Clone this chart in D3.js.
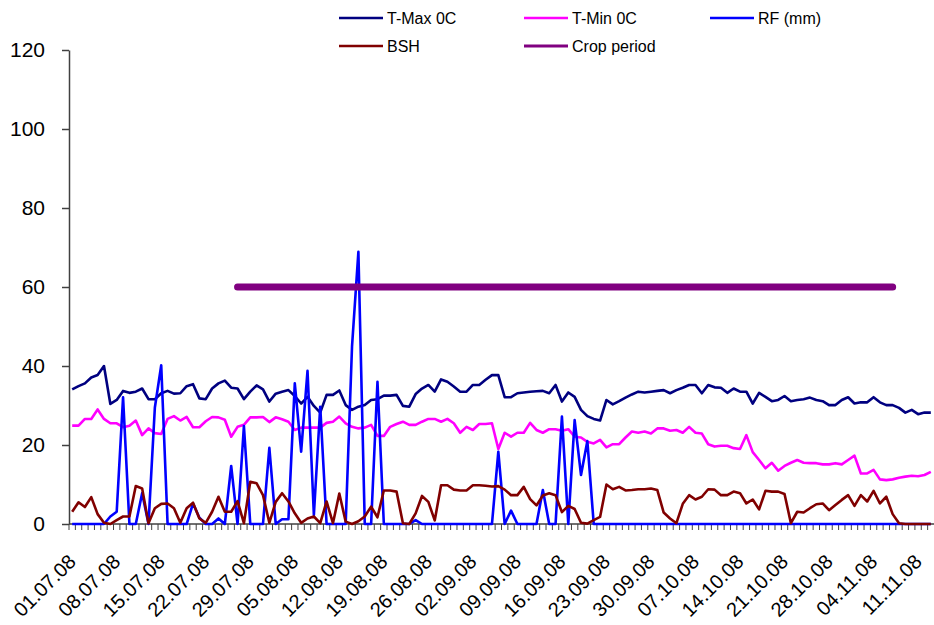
<!DOCTYPE html>
<html>
<head>
<meta charset="utf-8">
<script src="https://cdn.jsdelivr.net/npm/d3@7"></script>
<style>
  body { margin: 0; background: #fff; }
  svg { display: block; font-family: Arial, "Liberation Sans", sans-serif; }
</style>
</head>
<body>
<svg id="chart" width="934" height="625"></svg>
<script>
// daily readings 01.07.08 - 13.11.08
var tmax = [
    34.1, 34.9, 35.6, 37.1, 37.7, 40.0, 30.4, 31.4, 33.7, 33.2,
    33.5, 34.3, 31.6, 31.6, 33.1, 33.7, 33.0, 33.1, 34.9, 35.4,
    31.8, 31.6, 34.3, 35.6, 36.3, 34.5, 34.3, 31.6, 33.5, 35.1,
    34.1, 31.0, 33.0, 33.5, 33.9, 32.4, 30.5, 32.2, 29.9, 28.2,
    32.7, 32.7, 33.8, 30.1, 28.9, 29.7, 30.1, 31.4, 31.6, 32.5,
    32.5, 32.7, 29.9, 29.7, 32.9, 34.3, 35.2, 33.5, 36.6, 36.0,
    34.8, 33.5, 33.5, 35.2, 35.2, 36.5, 37.7, 37.7, 32.1, 32.1,
    33.1, 33.3, 33.5, 33.6, 33.7, 33.1, 35.2, 31.0, 33.3, 32.2,
    28.9, 27.3, 26.6, 26.2, 31.4, 30.3, 31.1, 32.0, 32.8, 33.5,
    33.3, 33.5, 33.7, 33.9, 33.1, 33.9, 34.5, 35.2, 35.2, 33.1,
    35.2, 34.6, 34.5, 33.2, 34.3, 33.5, 33.5, 30.5, 33.2, 32.2,
    31.1, 31.4, 32.4, 31.1, 31.4, 31.6, 32.0, 31.4, 31.1, 30.1,
    30.1, 31.4, 32.1, 30.5, 30.8, 30.8, 32.1, 30.8, 30.1, 30.1,
    29.4, 28.2, 28.9, 27.8, 28.2, 28.2
];
var tmin = [
    24.9, 24.9, 26.6, 26.6, 29.0, 26.6, 25.5, 25.5, 24.5, 24.9,
    26.2, 22.5, 24.2, 23.0, 22.8, 26.6, 27.3, 26.2, 27.1, 24.5,
    24.5, 26.0, 27.1, 27.0, 26.4, 22.1, 24.6, 25.1, 27.0, 27.0,
    27.1, 25.8, 27.0, 26.5, 25.9, 23.8, 24.4, 24.4, 24.4, 24.4,
    25.6, 25.9, 27.2, 25.5, 24.6, 24.2, 24.4, 25.1, 22.3, 22.3,
    24.6, 25.3, 25.9, 25.1, 25.1, 25.9, 26.6, 26.6, 25.9, 26.6,
    25.5, 23.1, 24.6, 23.8, 25.3, 25.3, 25.5, 19.0, 23.1, 22.1,
    23.1, 23.1, 25.6, 23.8, 23.1, 24.0, 24.0, 23.6, 24.0, 22.1,
    21.9, 20.8, 20.4, 21.3, 19.4, 20.2, 20.2, 21.9, 23.4, 23.1,
    23.4, 22.9, 24.2, 24.2, 23.6, 23.8, 23.1, 24.6, 23.1, 22.9,
    20.2, 19.6, 19.8, 19.8, 19.2, 19.0, 22.5, 18.2, 16.2, 14.1,
    15.5, 13.5, 14.7, 15.5, 16.2, 15.5, 15.4, 15.4, 15.1, 15.1,
    15.4, 15.1, 16.2, 17.3, 12.8, 12.8, 13.7, 11.3, 11.1, 11.3,
    11.7, 12.0, 12.2, 12.1, 12.4, 13.2
];
var rf = [
    0, 0, 0, 0, 0, 0, 1.9, 3.1, 32.1, 0,
    0, 7.8, 0, 29.5, 40.2, 0, 0, 0, 0, 5.2,
    1.6, 0, 0, 1.4, 0, 14.7, 0, 24.8, 0, 0,
    0, 19.3, 0, 1.2, 1.2, 35.6, 18.3, 38.8, 2.3, 29.7,
    0, 0, 0, 0, 45.0, 68.9, 0, 0, 36.0, 0,
    0, 0, 0, 0, 1.0, 0, 0, 0, 0, 0,
    0, 0, 0, 0, 0, 0, 0, 18.3, 0, 3.4,
    0, 0, 0, 0, 8.6, 0, 0, 27.2, 0, 26.3,
    12.4, 21.0, 0, 0, 0, 0, 0, 0, 0, 0,
    0, 0, 0, 0, 0, 0, 0, 0, 0, 0,
    0, 0, 0, 0, 0, 0, 0, 0, 0, 0,
    0, 0, 0, 0, 0, 0, 0, 0, 0, 0,
    0, 0, 0, 0, 0, 0, 0, 0, 0, 0,
    0, 0, 0, 0, 0, 0
];
var bsh = [
    3.1, 5.5, 4.3, 6.8, 2.5, 0.3, 0, 1.0, 1.9, 1.9,
    9.6, 9.0, 0.2, 4.0, 5.1, 5.2, 4.0, 0.3, 4.0, 5.4,
    1.4, 0.3, 3.1, 6.9, 3.1, 3.1, 5.8, 0.2, 10.7, 10.3,
    7.3, 0.3, 5.6, 7.8, 5.7, 2.7, 0.3, 1.4, 1.9, 0.2,
    5.7, 0.2, 7.7, 0.6, 0, 0.7, 1.9, 4.4, 1.7, 8.5,
    8.5, 8.2, 0.2, 0, 2.7, 7.1, 5.6, 0.9, 9.8, 9.8,
    8.7, 8.5, 8.5, 9.8, 9.8, 9.7, 9.5, 9.6, 8.7, 7.3,
    7.3, 9.4, 6.3, 4.7, 7.2, 7.8, 7.3, 3.0, 4.6, 3.8,
    0.3, 0.1, 1.0, 1.8, 10.0, 8.8, 9.4, 8.5, 8.6, 8.8,
    8.8, 9.0, 8.6, 2.9, 1.4, 0.2, 5.1, 7.3, 6.2, 6.9,
    8.8, 8.7, 7.3, 7.3, 8.2, 7.8, 5.2, 6.2, 3.7, 8.4,
    8.2, 8.2, 7.6, 0.2, 3.1, 2.9, 4.0, 5.0, 5.2, 3.5,
    4.8, 6.1, 7.3, 4.6, 7.3, 5.7, 8.4, 5.2, 6.9, 2.5,
    0.2, 0, 0, 0, 0, 0
];
var cropPeriod = ["27.07.08", "07.11.08"];
var cropLevel = 60;

var tickLabels = ["01.07.08", "08.07.08", "15.07.08", "22.07.08", "29.07.08",
    "05.08.08", "12.08.08", "19.08.08", "26.08.08", "02.09.08", "09.09.08",
    "16.09.08", "23.09.08", "30.09.08", "07.10.08", "14.10.08", "21.10.08",
    "28.10.08", "04.11.08", "11.11.08"];
var yTicks = [0, 20, 40, 60, 80, 100, 120];

var seriesNames = ["T-Max 0C", "T-Min 0C", "RF (mm)", "BSH", "Crop period"];
var seriesColors = ["#000080", "#ff00ff", "#0000ff", "#800000", "#800080"];

chart = {};
chart.fmt = d3.utcFormat("%d.%m.%y");
chart.parse = d3.utcParse("%d.%m.%y");
chart.margins = { top: 50, bottom: 101, left: 69, right: 0 };

chart.init = function() {
    this.svg = d3.select("#chart");
    this.width = +this.svg.attr("width");
    this.height = +this.svg.attr("height");

    // one category per day
    this.dates = d3.utcDay.range(this.parse(tickLabels[0]),
        d3.utcDay.offset(this.parse(tickLabels[0]), tmax.length)).map(this.fmt);

    this.x = d3.scaleBand()
        .domain(this.dates)
        .range([this.margins.left, this.width - this.margins.right]);
    this.y = d3.scaleLinear()
        .domain([0, 120])
        .range([this.height - this.margins.bottom, this.margins.top]);

    this.drawAxes();
    this.drawSeries();
    this.drawLegend();
};

chart.cx = function(d) {
    return chart.x(d) + chart.x.bandwidth() / 2;
};

chart.drawAxes = function() {
    var y0 = this.y(0);

    var yAxis = this.svg.append("g")
        .attr("transform", `translate(${this.margins.left},0)`)
        .call(d3.axisLeft(this.y).tickValues(yTicks).tickSize(7)
            .tickPadding(17).tickSizeOuter(0));
    yAxis.select(".domain").attr("stroke", "#404040").attr("stroke-width", 1.5);
    yAxis.selectAll(".tick line").attr("stroke", "#404040").attr("stroke-width", 1.5);
    yAxis.selectAll(".tick text")
        .attr("font-size", 21)
        .attr("font-family", "Arial, 'Liberation Sans', sans-serif")
        .attr("fill", "#000");

    var xAxis = this.svg.append("g");
    xAxis.append("line")
        .attr("x1", this.x.range()[0])
        .attr("x2", this.x.range()[1])
        .attr("y1", y0).attr("y2", y0)
        .attr("stroke", "#404040").attr("stroke-width", 1.5);
    xAxis.selectAll(".xt")
        .data(this.dates)
        .enter().append("line")
        .attr("class", "xt")
        .attr("x1", (d) => this.x(d)).attr("x2", (d) => this.x(d))
        .attr("y1", y0).attr("y2", y0 + 6)
        .attr("stroke", "#404040").attr("stroke-width", 1);

    xAxis.selectAll(".xl")
        .data(tickLabels)
        .enter().append("text")
        .attr("class", "xl")
        .attr("transform", (d) => `translate(${this.cx(d)},${y0 + 34}) rotate(-45)`)
        .attr("text-anchor", "end")
        .attr("dy", "0.35em")
        .attr("font-size", 20)
        .attr("fill", "#000")
        .text((d) => d);
};

chart.drawSeries = function() {
    var line = d3.line()
        .x((d, i) => this.cx(this.dates[i]))
        .y((d) => this.y(d));

    var g = this.svg.append("g").attr("fill", "none");
    [tmax, tmin, rf, bsh].forEach((values, k) => {
        g.append("path")
            .datum(values)
            .attr("d", line)
            .attr("stroke", seriesColors[k])
            .attr("stroke-width", 2.6)
            .attr("stroke-linejoin", "round");
    });

    // crop period bar
    g.append("line")
        .attr("x1", this.cx(cropPeriod[0]))
        .attr("x2", this.cx(cropPeriod[1]))
        .attr("y1", this.y(cropLevel))
        .attr("y2", this.y(cropLevel))
        .attr("stroke", seriesColors[4])
        .attr("stroke-width", 7)
        .attr("stroke-linecap", "round");
};

chart.drawLegend = function() {
    var cols = [339, 524, 710];
    var rows = [18, 46];
    var legend = this.svg.append("g");
    seriesNames.forEach((name, i) => {
        var lx = cols[i % 3], ly = rows[Math.floor(i / 3)];
        legend.append("line")
            .attr("x1", lx).attr("x2", lx + 44)
            .attr("y1", ly).attr("y2", ly)
            .attr("stroke", seriesColors[i])
            .attr("stroke-width", i === 4 ? 3 : 2.5);
        legend.append("text")
            .attr("x", lx + 48).attr("y", ly)
            .attr("dy", "0.35em")
            .attr("font-size", 16)
            .attr("fill", "#000")
            .text(name);
    });
};

chart.init();
</script>
</body>
</html>
